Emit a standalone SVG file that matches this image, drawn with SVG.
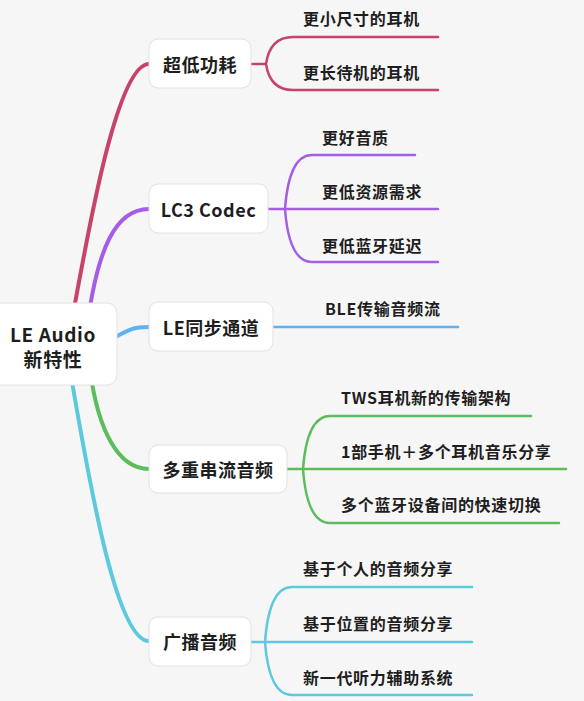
<svg xmlns="http://www.w3.org/2000/svg" width="584" height="701" viewBox="0 0 584 701">
<style>
.bg{fill:#f6f6f6}
.box{fill:#ffffff;stroke:#e2e2e2;stroke-width:1}
.t{font-family:"Noto Sans CJK SC","Liberation Sans",sans-serif;fill:#1e1e1e;font-weight:600;dominant-baseline:central}
.root{font-size:19px;text-anchor:middle;letter-spacing:0.6px}
.br{font-size:18px;text-anchor:middle;letter-spacing:0.5px}
.leaf{font-size:16px;letter-spacing:0.7px}
.c{fill:none;stroke-linecap:round}
.main{stroke-width:4}
.sub{stroke-width:2.5}
.pink{stroke:#c8436a}
.purple{stroke:#a65de6}
.blue{stroke:#5cb2f2}
.green{stroke:#5dbd5d}
.cyan{stroke:#5cc9de}
</style>
<rect class="bg" x="0" y="0" width="584" height="701"/>
<g id="connectors">
<path class="c main pink" d="M72 320 C90 220,118 64,149 64"/>
<path class="c main purple" d="M88 320 C98 250,115 209,149 209"/>
<path class="c main blue" d="M110 340 C128 330,132 327,149 327"/>
<path class="c main green" d="M90 370 C98 430,118 469,149 469"/>
<path class="c main cyan" d="M70 370 C92 500,118 641,149 641"/>
<path class="c sub pink" d="M251 64 H266 M266 64 Q270 37 293 37 H438 M266 64 Q270 90 293 90 H438"/>
<path class="c sub purple" d="M268 209 H438 M285 209 Q289 155 312 155 H415 M285 209 Q289 262 312 262 H438"/>
<path class="c sub blue" d="M273 327 H458"/>
<path class="c sub green" d="M287 469 H566 M303 469 Q307 416 330 416 H531 M303 469 Q307 523 330 523 H559"/>
<path class="c sub cyan" d="M251 642 H472 M265 642 Q269 587 292 587 H472 M265 642 Q269 695 292 695 H472"/>
</g>
<g id="root">
<rect class="box" x="-11" y="303" width="128" height="82" rx="10"/>
<text class="t root" x="53" y="333">LE Audio</text>
<text class="t root" x="53" y="358">新特性</text>
</g>
<g id="n1">
<rect class="box" x="149" y="39" width="102" height="49" rx="9"/>
<text class="t br" x="200" y="64">超低功耗</text>
</g>
<g id="n2">
<rect class="box" x="149" y="184" width="119" height="49" rx="9"/>
<text class="t br" x="208.5" y="209">LC3 Codec</text>
</g>
<g id="n3">
<rect class="box" x="149" y="302" width="124" height="49" rx="9"/>
<text class="t br" x="211" y="327">LE同步通道</text>
</g>
<g id="n4">
<rect class="box" x="149" y="445" width="138" height="48" rx="9"/>
<text class="t br" x="218" y="469">多重串流音频</text>
</g>
<g id="n5">
<rect class="box" x="149" y="617" width="102" height="49" rx="9"/>
<text class="t br" x="200" y="641">广播音频</text>
</g>
<g id="leaves">
<text class="t leaf" x="303" y="18">更小尺寸的耳机</text>
<text class="t leaf" x="303" y="72">更长待机的耳机</text>
<text class="t leaf" x="322" y="137">更好音质</text>
<text class="t leaf" x="322" y="191">更低资源需求</text>
<text class="t leaf" x="322" y="245">更低蓝牙延迟</text>
<text class="t leaf" x="325" y="308">BLE传输音频流</text>
<text class="t leaf" x="341" y="397">TWS耳机新的传输架构</text>
<text class="t leaf" x="341" y="451">1部手机＋多个耳机音乐分享</text>
<text class="t leaf" x="341" y="504">多个蓝牙设备间的快速切换</text>
<text class="t leaf" x="303" y="568">基于个人的音频分享</text>
<text class="t leaf" x="303" y="623">基于位置的音频分享</text>
<text class="t leaf" x="303" y="677">新一代听力辅助系统</text>
</g>
</svg>
